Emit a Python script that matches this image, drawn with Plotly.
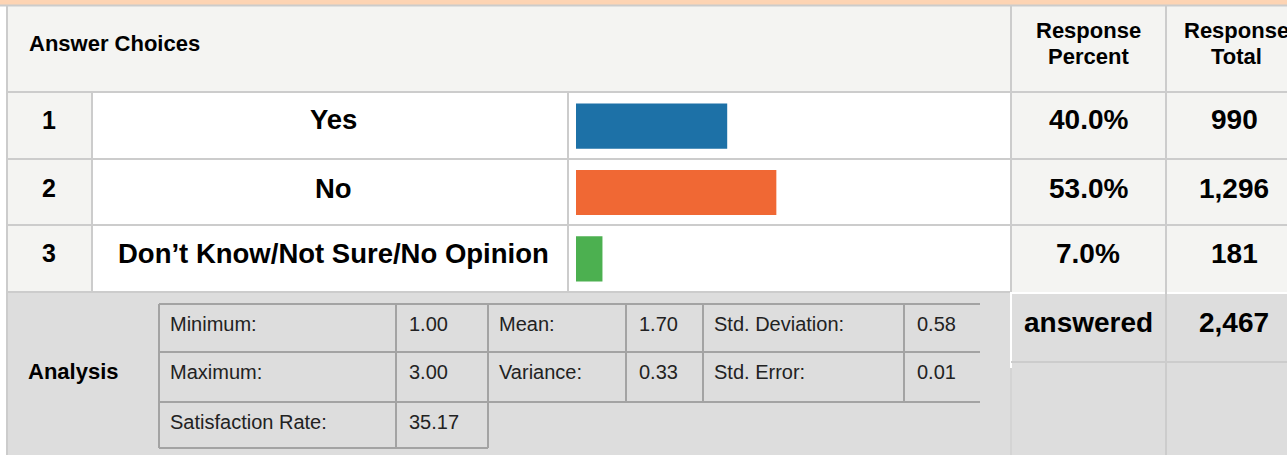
import plotly.graph_objects as go

# ---------------- data ----------------
row_numbers = ["1", "2", "3"]
choices = ["Yes", "No", "Don’t Know/Not Sure/No Opinion"]
percents = [40.0, 53.0, 7.0]
totals = [990, 1296, 181]
answered_total = 2467
bar_colors = ["#1D71A7", "#F06834", "#4CB050"]

stat_row1_names = ["Minimum:", "Mean:", "Std. Deviation:"]
stat_row1_values = ["1.00", "1.70", "0.58"]
stat_row2_names = ["Maximum:", "Variance:", "Std. Error:"]
stat_row2_values = ["3.00", "0.33", "0.01"]
stat_row3_names = ["Satisfaction Rate:"]
stat_row3_values = ["35.17"]

# ---------------- layout helpers ----------------
W, H = 1287, 455
def X(px):
    return px / W
def Y(py):
    return 1 - py / H

FONT = "Liberation Sans, Arial, Helvetica, sans-serif"
GRID = "#CCCCCC"
INNER = "#A3A3A3"
LIGHT = "#F4F4F2"
ANALYSIS_BG = "#DDDDDD"

shapes = []
def rect(x0, y0, x1, y1, fill):
    shapes.append(dict(type="rect", xref="paper", yref="paper",
                       x0=X(x0), x1=X(x1), y0=Y(y1), y1=Y(y0),
                       fillcolor=fill, line=dict(width=0), layer="below"))
def line(x0, y0, x1, y1, color=GRID, width=2):
    shapes.append(dict(type="line", xref="paper", yref="paper",
                       x0=X(x0), x1=X(x1), y0=Y(y0), y1=Y(y1),
                       line=dict(color=color, width=width), layer="below"))

annotations = []
def text(s, x, y, size, anchor="center", bold=False, color="#000000"):
    annotations.append(dict(text=f"<b>{s}</b>" if bold else s,
                            xref="paper", yref="paper", x=X(x), y=Y(y),
                            xanchor=anchor, yanchor="middle", showarrow=False,
                            font=dict(family=FONT, size=size, color=color)))

# column / row edges (pixels)
col_left, col_num, col_label, col_bar, col_pct, col_tot = 7, 92, 568, 1011, 1166, 1287
row_top, row_head, rows = 6, 92, [92, 159, 225, 292]

# backgrounds
rect(0, 0, W, 5, "#FDD4B4")
rect(col_left, row_top, W, row_head, LIGHT)
rect(col_left, row_head, col_num, rows[-1], LIGHT)
rect(col_num, row_head, col_bar, rows[-1], "#FFFFFF")
rect(col_bar, row_head, W, rows[-1], LIGHT)
rect(col_left, rows[-1], W, H, ANALYSIS_BG)

# grid lines of main table
line(0, 5.5, W, 5.5)
for r in rows[:-1]:
    line(col_left, r, W, r)
line(col_left, rows[-1], col_bar, rows[-1])
line(col_bar, rows[-1] + 1, W, rows[-1] + 1, "#FFFFFF", 2)
line(col_left, row_top, col_left, H)
line(col_num, row_head, col_num, rows[-1])
line(col_label, row_head, col_label, rows[-1])
line(col_bar, row_top, col_bar, rows[-1])
line(col_bar, rows[-1], col_bar, 368, "#FFFFFF", 2)
line(col_bar, 368, col_bar, H, "#D4D4D4", 2)
line(col_pct, row_top, col_pct, H)
line(col_bar, 362, W, 362)

# inner statistics table
ix = [159, 396, 488, 626, 703, 904, 980]
iy = [304, 352, 402, 448]
line(ix[0], iy[0], ix[-1], iy[0], INNER)
line(ix[0], iy[1], ix[-1], iy[1], INNER)
line(ix[0], iy[2], ix[-1], iy[2], INNER)
line(ix[0], iy[3], ix[2], iy[3], INNER)
for xv in ix[:3]:
    line(xv, iy[0], xv, iy[3], INNER)
for xv in ix[3:6]:
    line(xv, iy[0], xv, iy[2], INNER)

# header texts
text("Answer Choices", 27, 43, 22, anchor="left", bold=True)
text("Response", 1088, 31, 22, bold=True)
text("Percent", 1088, 56, 22, bold=True)
text("Response", 1236, 31, 22, bold=True)
text("Total", 1236, 56, 22, bold=True)

# row texts
row_text_y = [120, 188, 253]
for i in range(len(choices)):
    text(row_numbers[i], 49, row_text_y[i], 25, bold=True)
    text(choices[i], 333, row_text_y[i], 27.5, bold=True)
    text(f"{percents[i]:.1f}%", 1088, row_text_y[i], 28, bold=True)
    text(f"{totals[i]:,}", 1234, row_text_y[i], 28, bold=True)

# analysis texts
text("Analysis", 26, 371, 22, anchor="left", bold=True)
text("answered", 1088, 322, 28, bold=True)
text(f"{answered_total:,}", 1234, 322, 28, bold=True)

stat_rows = [(stat_row1_names, stat_row1_values),
             (stat_row2_names, stat_row2_values),
             (stat_row3_names, stat_row3_values)]
for r, (names, vals) in enumerate(stat_rows):
    ty = iy[r] + 20
    for c in range(len(names)):
        text(names[c], ix[2 * c] + 9, ty, 20, anchor="left", color="#222222")
        text(vals[c], ix[2 * c + 1] + 11, ty, 20, anchor="left", color="#222222")

# ---------------- bars ----------------
px_per_pct = 3.78
fig = go.Figure(go.Bar(
    x=percents, y=choices, orientation="h",
    marker=dict(color=bar_colors, line=dict(width=0)),
    width=0.68, hoverinfo="skip", showlegend=False,
))

fig.update_layout(
    width=W, height=H,
    margin=dict(l=0, r=0, t=0, b=0),
    paper_bgcolor="#FFFFFF", plot_bgcolor="rgba(0,0,0,0)",
    xaxis=dict(domain=[X(576), X(col_bar)], range=[0, (col_bar - 576) / px_per_pct],
               visible=False, fixedrange=True),
    yaxis=dict(domain=[Y(rows[-1]), Y(rows[0] + 1)], range=[2.5, -0.5],
               type="category", categoryorder="array", categoryarray=choices,
               visible=False, fixedrange=True),
    shapes=shapes, annotations=annotations,
)

fig.write_html("out.html",
               config={"displayModeBar": False, "staticPlot": True},
               post_script="document.body.style.margin='0';document.body.style.overflow='hidden';")
